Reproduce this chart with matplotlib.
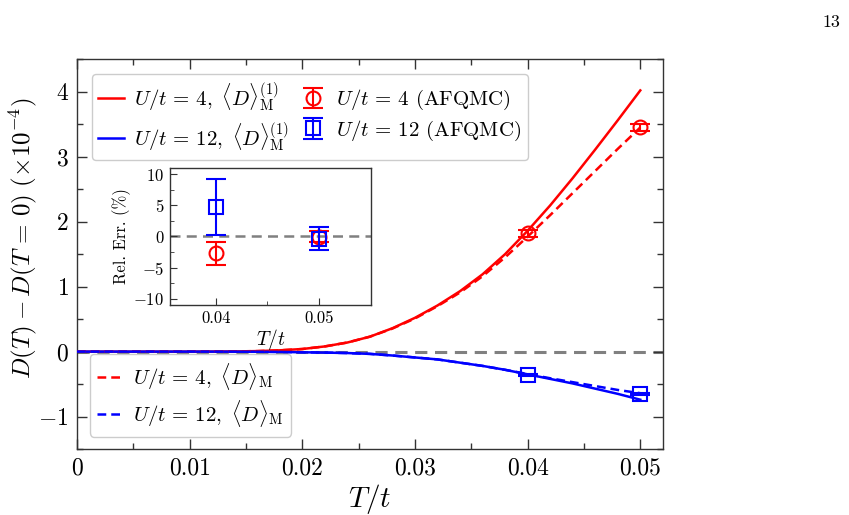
import matplotlib
matplotlib.use("Agg")
import matplotlib.pyplot as plt
import numpy as np

plt.rcParams['mathtext.fontset'] = 'cm'
plt.rcParams['font.family'] = 'serif'
plt.rcParams['font.serif'] = ['cmr10', 'DejaVu Serif']
plt.rcParams['axes.formatter.use_mathtext'] = True
plt.rcParams['axes.unicode_minus'] = True

# ---- data ----
T = [0.0, 0.005, 0.01, 0.014, 0.016, 0.018, 0.02, 0.022, 0.024, 0.026, 0.028,
     0.03, 0.032, 0.034, 0.036, 0.038, 0.04, 0.042, 0.044, 0.046, 0.048, 0.05]
red_m1 = [0.0, 0.0, 0.0, 0.003, 0.008, 0.02, 0.04, 0.08, 0.14, 0.23, 0.36,
          0.52, 0.71, 0.93, 1.19, 1.50, 1.86, 2.25, 2.67, 3.11, 3.56, 4.02]
red_m = [0.0, 0.0, 0.0, 0.003, 0.008, 0.02, 0.04, 0.08, 0.14, 0.23, 0.355,
         0.51, 0.70, 0.91, 1.16, 1.45, 1.77, 2.10, 2.44, 2.78, 3.12, 3.45]
blue_m1 = [0.0, 0.0, 0.0, -0.001, -0.002, -0.005, -0.01, -0.015, -0.022, -0.035, -0.06,
           -0.09, -0.12, -0.17, -0.22, -0.28, -0.35, -0.42, -0.49, -0.57, -0.65, -0.74]
blue_m = [0.0, 0.0, 0.0, -0.001, -0.002, -0.005, -0.01, -0.015, -0.022, -0.035, -0.06,
          -0.09, -0.12, -0.17, -0.22, -0.28, -0.345, -0.41, -0.47, -0.53, -0.59, -0.64]

T_qmc = [0.04, 0.05]
red_qmc = [1.82, 3.45]
red_qmc_err = [0.05, 0.06]
blue_qmc = [-0.355, -0.655]
blue_qmc_err = [0.015, 0.015]

red_rel = [-2.7, -0.03]
red_rel_err = [1.85, 0.95]
blue_rel = [4.7, -0.35]
blue_rel_err = [4.5, 1.8]

xticks = [0, 0.01, 0.02, 0.03, 0.04, 0.05]
xticklabels = ['0', '0.01', '0.02', '0.03', '0.04', '0.05']
yticks = [-1, 0, 1, 2, 3, 4]

RED = '#ff0000'
BLUE = '#0000ff'
GRAY = '#808080'

fig = plt.figure(figsize=(8.49, 5.15), dpi=100)
ax = fig.add_axes([0.0907, 0.128, 0.690, 0.757])

ax.axhline(0, color=GRAY, lw=2.2, ls=(0, (4, 2.5)), zorder=1)
l1, = ax.plot(T, red_m1, color=RED, lw=1.8, zorder=3)
l2, = ax.plot(T, blue_m1, color=BLUE, lw=1.8, zorder=3)
l3, = ax.plot(T, red_m, color=RED, lw=1.8, ls=(0, (3.5, 2)), zorder=3)
l4, = ax.plot(T, blue_m, color=BLUE, lw=1.8, ls=(0, (3.5, 2)), zorder=3)
e1 = ax.errorbar(T_qmc, red_qmc, yerr=red_qmc_err, fmt='o', mfc='none', mec=RED,
                 ecolor=RED, ms=10, mew=1.5, capsize=7, capthick=1.5, elinewidth=1.5, zorder=4)
e2 = ax.errorbar(T_qmc, blue_qmc, yerr=blue_qmc_err, fmt='s', mfc='none', mec=BLUE,
                 ecolor=BLUE, ms=10, mew=1.5, capsize=7, capthick=1.5, elinewidth=1.5, zorder=4)

ax.set_xlim(0, 0.052)
ax.set_ylim(-1.5, 4.5)
ax.set_xticks(xticks)
ax.set_xticklabels(xticklabels)
ax.set_yticks(yticks)
ax.set_xticks(np.arange(0.005, 0.052, 0.01), minor=True)
ax.set_yticks(np.arange(-1.5, 4.51, 0.5), minor=True)
ax.tick_params(which='both', direction='in', top=True, right=True, labelsize=17, pad=6)
ax.tick_params(which='major', length=7, width=1.0, color='#333333')
ax.tick_params(which='minor', length=4, width=1.0, color='#333333')
for s in ax.spines.values():
    s.set_linewidth(1.0)
    s.set_color('#333333')
ax.set_xlabel(r'$T/t$', fontsize=21, labelpad=2)
ax.set_ylabel(r'$D(T)-D(T\,=\,0)\ (\times 10^{-4})$', fontsize=18)
ax.yaxis.set_label_coords(-0.065, 0.54)

EQ = r'\,=\,'
leg1 = ax.legend([l1, l2, e1, e2],
                 [r'$U/t' + EQ + r'4,\ \langle D\rangle_{\rm M}^{(1)}$',
                  r'$U/t' + EQ + r'12,\ \langle D\rangle_{\rm M}^{(1)}$',
                  r'$U/t' + EQ + r'4$ (AFQMC)',
                  r'$U/t' + EQ + r'12$ (AFQMC)'],
                 loc='upper left', ncol=2, fontsize=15, handlelength=1.25,
                 handletextpad=0.5, columnspacing=0.5, labelspacing=0.3,
                 borderpad=0.3, borderaxespad=0.7, fancybox=True, framealpha=1,
                 edgecolor='#cccccc')
ax.add_artist(leg1)
leg2 = ax.legend([l3, l4],
                 [r'$U/t' + EQ + r'4,\ \langle D\rangle_{\rm M}$',
                  r'$U/t' + EQ + r'12,\ \langle D\rangle_{\rm M}$'],
                 loc='lower left', fontsize=15, handlelength=1.25,
                 handletextpad=0.5, labelspacing=0.3,
                 borderpad=0.35, borderaxespad=0.6, fancybox=True, framealpha=1,
                 edgecolor='#cccccc')

# ---- inset ----
ins = fig.add_axes([0.200, 0.408, 0.237, 0.266])
ins.axhline(0, color=GRAY, lw=1.8, ls=(0, (4, 2.5)), zorder=1)
ins.errorbar(T_qmc, red_rel, yerr=red_rel_err, fmt='o', mfc='none', mec=RED,
             ecolor=RED, ms=10, mew=1.5, capsize=7, capthick=1.5, elinewidth=1.5, zorder=3)
ins.errorbar(T_qmc, blue_rel, yerr=blue_rel_err, fmt='s', mfc='none', mec=BLUE,
             ecolor=BLUE, ms=10, mew=1.5, capsize=7, capthick=1.5, elinewidth=1.5, zorder=4)
ins.set_xlim(0.0355, 0.0551)
ins.set_ylim(-11, 11)
ins.set_xticks([0.04, 0.05])
ins.set_xticklabels(['0.04', '0.05'])
ins.set_xticks([0.045], minor=True)
ins.set_yticks([-10, -5, 0, 5, 10])
ins.set_yticks(np.arange(-10, 10.1, 2.5), minor=True)
ins.tick_params(which='both', direction='in', labelsize=12, pad=4)
ins.tick_params(which='major', length=5, color='#333333')
ins.tick_params(which='minor', length=3, color='#333333')
for s in ins.spines.values():
    s.set_linewidth(1.0)
    s.set_color('#333333')
ins.set_xlabel(r'$T/t$', fontsize=14, labelpad=1)
ins.set_ylabel(r'Rel. Err. (%)', fontsize=12, labelpad=2)

fig.text(0.990, 0.957, '13', fontsize=13, ha='right', va='center')

fig.savefig('out.png', dpi=100)
